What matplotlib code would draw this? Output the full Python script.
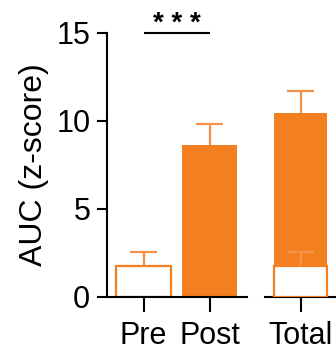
import matplotlib.pyplot as plt

plt.rcParams['font.family'] = ['Liberation Sans', 'DejaVu Sans']

# data
groups = ['Pre', 'Post']
means = [1.76, 8.64]
sems = [0.80, 1.19]
total_label = ['Total']
total_mean = [10.45]
total_sem = [1.25]
pre_in_total = [1.76]
pre_in_total_sem = [0.80]
yticks = [0, 5, 10, 15]

orange = '#F37F21'
err_orange = '#F5924A'

fig = plt.figure(figsize=(3.36, 3.52), dpi=100)
ax1 = fig.add_axes([107 / 336, 55 / 352, 140 / 336, 264 / 352])
ax2 = fig.add_axes([265 / 336, 55 / 352, 73 / 336, 264 / 352])

bw = 0.83
cap = 0.205


def upper_err(ax, xpos, mean, sem, z):
    # only the upper half of the error bar, no cap at the bar top
    ax.vlines(xpos, mean, mean + sem, color=err_orange, lw=1.6, zorder=z)
    ax.hlines(mean + sem, xpos - cap, xpos + cap, color=err_orange, lw=1.6, zorder=z)


# left panel: Pre / Post
x = [0, 1]
ax1.bar(x[0], means[0], bw, color='white', edgecolor=orange, linewidth=1.6, zorder=2)
upper_err(ax1, x[0], means[0], sems[0], 1)
ax1.bar(x[1], means[1], bw, color=orange, linewidth=0, zorder=2)
upper_err(ax1, x[1], means[1], sems[1], 1)

# right panel: total with pre overlay
ax2.bar(0, total_mean[0], bw, color=orange, linewidth=0, zorder=2)
upper_err(ax2, 0, total_mean[0], total_sem[0], 1)
ax2.bar(0, pre_in_total[0], bw, color='white', edgecolor=orange, linewidth=1.6, zorder=3)
upper_err(ax2, 0, pre_in_total[0], pre_in_total_sem[0], 4)

for ax in (ax1, ax2):
    ax.set_ylim(0, 15)
    for s in ('top', 'right'):
        ax.spines[s].set_visible(False)
    for s in ('left', 'bottom'):
        ax.spines[s].set_linewidth(1.5)
    ax.tick_params(axis='x', length=11, width=1.5, labelsize=22, pad=6)
    ax.tick_params(axis='y', length=7, width=1.5, labelsize=22, pad=5)

ax1.set_xlim(-0.553, 1.568)
ax1.set_xticks(x)
ax1.set_xticklabels(groups)
ax1.set_yticks(yticks)
ax1.set_ylabel('AUC (z-score)', fontsize=23, labelpad=5)

ax2.set_xlim(-0.553, 0.58)
ax2.set_xticks([0])
ax2.set_xticklabels(total_label)
ax2.spines['left'].set_visible(False)
ax2.set_yticks([])

# significance marker
ax1.plot([0, 1], [15, 15], color='black', lw=1.5, clip_on=False,
         solid_capstyle='butt')
ax1.text(0.5, 14.8, '* * *', ha='center', va='bottom', fontsize=20,
         fontweight='bold', clip_on=False)

fig.savefig('out.png', dpi=100)
